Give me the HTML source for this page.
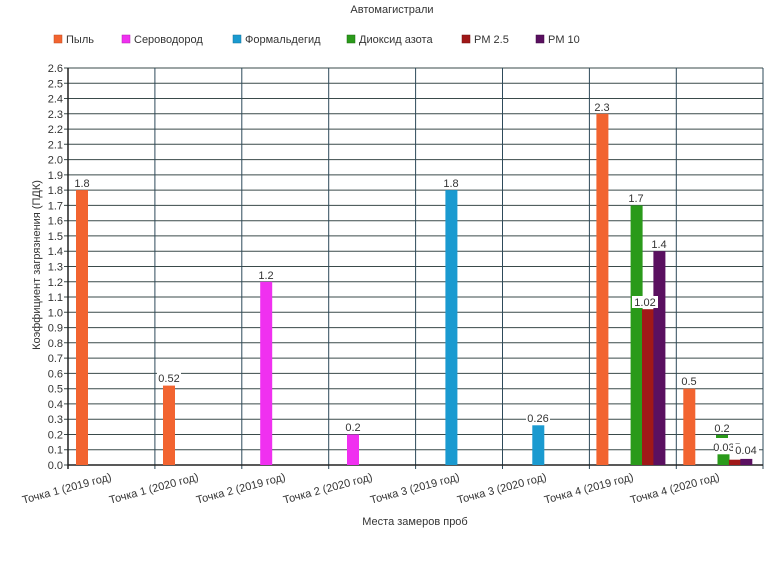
<!DOCTYPE html>
<html><head><meta charset="utf-8"><style>
html,body{margin:0;padding:0;background:#fff;}
svg{display:block;font-family:"Liberation Sans",sans-serif;}
</style></head><body>
<svg width="770" height="566" viewBox="0 0 770 566" xmlns="http://www.w3.org/2000/svg">
<rect width="770" height="566" fill="#fff"/>
<text x="392" y="13" font-size="11" fill="#333" text-anchor="middle">Автомагистрали</text>
<g font-size="11" fill="#333">
<rect x="54" y="35" width="8" height="8" fill="#f26430" stroke="#c04a20" stroke-width="0.5"/><text x="66" y="43">Пыль</text>
<rect x="122" y="35" width="8" height="8" fill="#f030f0" stroke="#b020b0" stroke-width="0.5"/><text x="134" y="43">Сероводород</text>
<rect x="233" y="35" width="8" height="8" fill="#1a9ad0" stroke="#10709a" stroke-width="0.5"/><text x="245" y="43">Формальдегид</text>
<rect x="347" y="35" width="8" height="8" fill="#2a9a1a" stroke="#1a6a10" stroke-width="0.5"/><text x="359" y="43">Диоксид азота</text>
<rect x="462" y="35" width="8" height="8" fill="#a01818" stroke="#701010" stroke-width="0.5"/><text x="474" y="43">PM 2.5</text>
<rect x="536" y="35" width="8" height="8" fill="#5a1060" stroke="#3a0840" stroke-width="0.5"/><text x="548" y="43">PM 10</text>
</g>
<g stroke="#3a4a4a" stroke-width="1">
<line x1="64" x2="763" y1="465" y2="465"/><line x1="64" x2="763" y1="449.7" y2="449.7"/><line x1="64" x2="763" y1="434.5" y2="434.5"/><line x1="64" x2="763" y1="419.2" y2="419.2"/><line x1="64" x2="763" y1="403.9" y2="403.9"/><line x1="64" x2="763" y1="388.7" y2="388.7"/><line x1="64" x2="763" y1="373.4" y2="373.4"/><line x1="64" x2="763" y1="358.1" y2="358.1"/><line x1="64" x2="763" y1="342.8" y2="342.8"/><line x1="64" x2="763" y1="327.6" y2="327.6"/><line x1="64" x2="763" y1="312.3" y2="312.3"/><line x1="64" x2="763" y1="297" y2="297"/><line x1="64" x2="763" y1="281.8" y2="281.8"/><line x1="64" x2="763" y1="266.5" y2="266.5"/><line x1="64" x2="763" y1="251.2" y2="251.2"/><line x1="64" x2="763" y1="235.9" y2="235.9"/><line x1="64" x2="763" y1="220.7" y2="220.7"/><line x1="64" x2="763" y1="205.4" y2="205.4"/><line x1="64" x2="763" y1="190.1" y2="190.1"/><line x1="64" x2="763" y1="174.9" y2="174.9"/><line x1="64" x2="763" y1="159.6" y2="159.6"/><line x1="64" x2="763" y1="144.3" y2="144.3"/><line x1="64" x2="763" y1="129.1" y2="129.1"/><line x1="64" x2="763" y1="113.8" y2="113.8"/><line x1="64" x2="763" y1="98.5" y2="98.5"/><line x1="64" x2="763" y1="83.3" y2="83.3"/><line x1="64" x2="763" y1="68" y2="68"/>
</g>
<g stroke="#2e4a5a" stroke-width="1">
<line x1="154.9" x2="154.9" y1="68" y2="469"/><line x1="241.8" x2="241.8" y1="68" y2="469"/><line x1="328.7" x2="328.7" y1="68" y2="469"/><line x1="415.6" x2="415.6" y1="68" y2="469"/><line x1="502.5" x2="502.5" y1="68" y2="469"/><line x1="589.4" x2="589.4" y1="68" y2="469"/><line x1="676.3" x2="676.3" y1="68" y2="469"/><line x1="763" x2="763" y1="68" y2="469"/>
</g>
<line x1="68" x2="68" y1="68" y2="469" stroke="#222" stroke-width="1.5"/>
<line x1="68" x2="763" y1="465" y2="465" stroke="#222" stroke-width="1.5"/>
<g font-size="11" fill="#333" text-anchor="end">
<text x="63" y="469">0.0</text><text x="63" y="453.7">0.1</text><text x="63" y="438.5">0.2</text><text x="63" y="423.2">0.3</text><text x="63" y="407.9">0.4</text><text x="63" y="392.7">0.5</text><text x="63" y="377.4">0.6</text><text x="63" y="362.1">0.7</text><text x="63" y="346.8">0.8</text><text x="63" y="331.6">0.9</text><text x="63" y="316.3">1.0</text><text x="63" y="301">1.1</text><text x="63" y="285.8">1.2</text><text x="63" y="270.5">1.3</text><text x="63" y="255.2">1.4</text><text x="63" y="239.9">1.5</text><text x="63" y="224.7">1.6</text><text x="63" y="209.4">1.7</text><text x="63" y="194.1">1.8</text><text x="63" y="178.9">1.9</text><text x="63" y="163.6">2.0</text><text x="63" y="148.3">2.1</text><text x="63" y="133.1">2.2</text><text x="63" y="117.8">2.3</text><text x="63" y="102.5">2.4</text><text x="63" y="87.3">2.5</text><text x="63" y="72">2.6</text>
</g>
<text transform="translate(40,265) rotate(-90)" font-size="11" fill="#333" text-anchor="middle">Коэффициент загрязнения (ПДК)</text>
<!-- bars -->
<rect x="76" y="190.1" width="12" height="274.9" fill="#f26430"/>
<rect x="163" y="385.6" width="12" height="79.4" fill="#f26430"/>
<rect x="260.2" y="281.8" width="12" height="183.2" fill="#f030f0"/>
<rect x="347" y="434.5" width="12" height="30.5" fill="#f030f0"/>
<rect x="445.4" y="190.1" width="12" height="274.9" fill="#1a9ad0"/>
<rect x="532.3" y="425.3" width="12" height="39.7" fill="#1a9ad0"/>
<rect x="596.4" y="113.8" width="12" height="351.2" fill="#f26430"/>
<rect x="630.6" y="205.4" width="12" height="259.6" fill="#2a9a1a"/>
<rect x="642" y="309.2" width="12" height="155.8" fill="#a01818"/>
<rect x="653.4" y="251.2" width="12" height="213.8" fill="#5a1060"/>
<rect x="683.3" y="388.7" width="12" height="76.3" fill="#f26430"/>
<rect x="716" y="435" width="12" height="3" fill="#2a9a1a"/>
<rect x="717.5" y="454.3" width="12" height="10.7" fill="#2a9a1a"/>
<rect x="728.9" y="459.7" width="12" height="5.3" fill="#a01818"/>
<rect x="740.3" y="458.9" width="12" height="6.1" fill="#5a1060"/>
<!-- value labels -->
<g font-size="11" fill="#333" text-anchor="middle">
<rect x="73" y="177" width="18" height="12" fill="#fff"/><text x="82" y="187">1.8</text>
<rect x="157" y="372" width="24" height="12" fill="#fff"/><text x="169" y="382">0.52</text>
<rect x="257" y="269" width="18" height="12" fill="#fff"/><text x="266" y="279">1.2</text>
<rect x="344" y="421" width="18" height="12" fill="#fff"/><text x="353" y="431">0.2</text>
<rect x="442" y="177" width="18" height="12" fill="#fff"/><text x="451" y="187">1.8</text>
<rect x="526" y="412" width="24" height="12" fill="#fff"/><text x="538" y="422">0.26</text>
<rect x="593" y="101" width="18" height="12" fill="#fff"/><text x="602" y="111">2.3</text>
<rect x="627" y="192" width="18" height="12" fill="#fff"/><text x="636" y="202">1.7</text>
<rect x="650" y="238" width="18" height="12" fill="#fff"/><text x="659" y="248">1.4</text>
<rect x="632" y="296" width="26" height="12" fill="#fff"/><text x="645" y="306">1.02</text>
<rect x="680" y="375" width="18" height="12" fill="#fff"/><text x="689" y="385">0.5</text>
<rect x="713" y="422" width="18" height="12" fill="#fff"/><text x="722" y="432">0.2</text>
<rect x="714" y="441" width="26" height="12" fill="#fff"/><text x="727" y="451">0.035</text>
<rect x="733" y="444" width="26" height="12" fill="#fff"/><text x="746" y="454">0.04</text>
</g>
<!-- category labels -->
<g font-size="11" fill="#333" text-anchor="end">
<text transform="translate(112,480) rotate(-15)">Точка 1 (2019 год)</text>
<text transform="translate(199,480) rotate(-15)">Точка 1 (2020 год)</text>
<text transform="translate(286,480) rotate(-15)">Точка 2 (2019 год)</text>
<text transform="translate(373,480) rotate(-15)">Точка 2 (2020 год)</text>
<text transform="translate(460,480) rotate(-15)">Точка 3 (2019 год)</text>
<text transform="translate(547,480) rotate(-15)">Точка 3 (2020 год)</text>
<text transform="translate(634,480) rotate(-15)">Точка 4 (2019 год)</text>
<text transform="translate(720,480) rotate(-15)">Точка 4 (2020 год)</text>
</g>
<text x="415" y="525" font-size="11" fill="#333" text-anchor="middle">Места замеров проб</text>
</svg>
</body></html>
